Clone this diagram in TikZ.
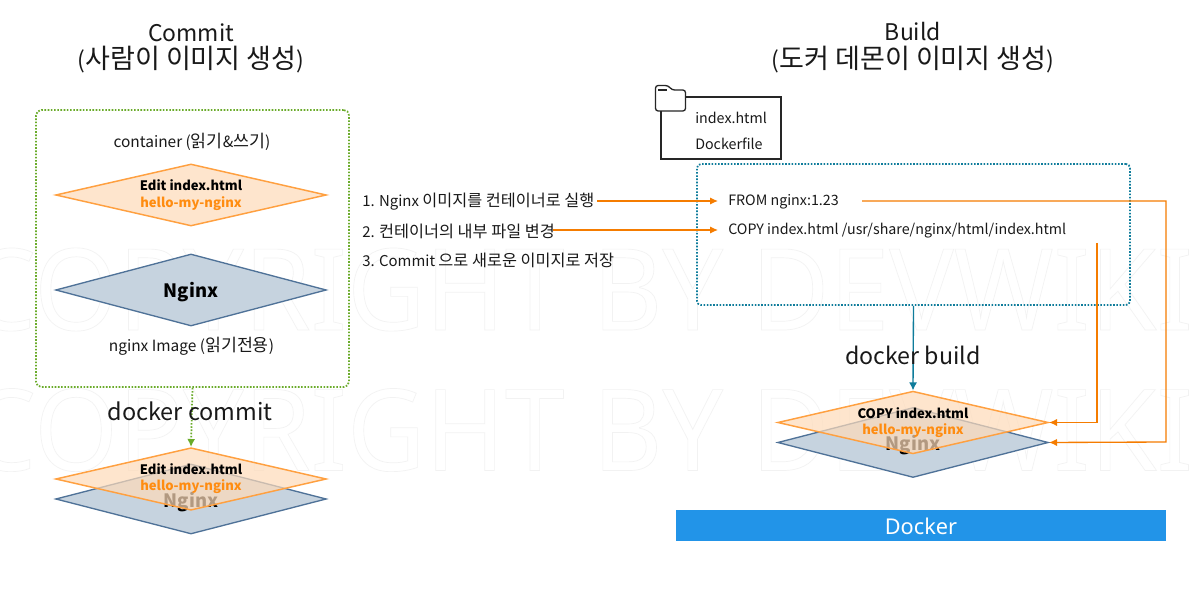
\documentclass[tikz,border=0pt]{standalone}
\usepackage{fontspec}
\setmainfont{Noto Sans CJK KR}
\newfontfamily\latinfont{Noto Sans}
\newfontfamily\hg[Scale=1.18]{Noto Sans CJK KR}
\newfontfamily\hgs[Scale=1.12]{Noto Sans CJK KR}
\newfontfamily\hgt[Scale=1.09]{Noto Sans CJK KR}
\usetikzlibrary{shapes.geometric,arrows.meta}
\definecolor{grn}{HTML}{6AAB2A}
\definecolor{teal2}{HTML}{0E7C9B}
\definecolor{org}{HTML}{F57C00}
\definecolor{orgline}{HTML}{FFA040}
\definecolor{orgfill}{HTML}{FEDBB9}
\definecolor{orgtxt}{HTML}{FF8C10}
\definecolor{bluefill}{HTML}{C6D3DF}
\definecolor{blueline}{HTML}{4F7298}
\definecolor{dockerblue}{HTML}{2294E8}
\definecolor{wm}{HTML}{F2F2F2}
\tikzset{
  x=0.75pt,y=-0.75pt,
  orgdia/.style={diamond,draw=orgline,line width=1.1pt,fill=orgfill,fill opacity=.7,inner sep=0pt,aspect=4.4,minimum width=203pt},
  bluedia/.style={diamond,draw=blueline,line width=1pt,fill=bluefill,inner sep=0pt,aspect=3.8,minimum width=203pt},
  lbl/.style={font=\fontsize{10.7pt}{12pt}\selectfont,text=black!90,inner sep=0pt},
  lbls/.style={font=\fontsize{11.2pt}{13pt}\selectfont,text=black!90,inner sep=0pt},
  lblb/.style={font=\fontsize{11.6pt}{13pt}\selectfont,text=black!90,inner sep=0pt},
  ttl/.style={font=\fontsize{17.2pt}{20pt}\selectfont,inner sep=0pt,text=black!90},
  bold/.style={font=\fontsize{9.8pt}{11pt}\selectfont\bfseries,inner sep=0pt},
  nginxb/.style={font=\fontsize{13.8pt}{15pt}\selectfont\bfseries,inner sep=0pt},
  orgtext/.style={font=\fontsize{9.8pt}{11pt}\selectfont\bfseries,inner sep=0pt,text=orgtxt},
  orgarrow/.style={draw=org,line width=1pt,-{Latex[length=6pt,width=5.5pt]}},
  dotline/.style={line width=1.3pt,dash pattern=on 1.2pt off 1.2pt},
  wmark/.style={font=\fontsize{85pt}{85pt}\selectfont,inner sep=0pt,anchor=west,text=wm,xscale=.948,transform shape}
}
\newcommand{\outl}[1]{\special{pdf:code 1 Tr 0.5 w}#1\special{pdf:code 0 Tr 1 w}}
\begin{document}
\begin{tikzpicture}
\useasboundingbox (0,0) rectangle (1196,598);
\fill[white] (0,0) rectangle (1196,598);
% watermark
\node[wmark] (wm1) at (-32,289.5) {\latinfont\outl{COPYRIGHT BY DEVWIKI}};
\node[wmark] (wm2) at (-32,430) {\latinfont\outl{COPYRIGHT BY DEVWIKI}};
% titles
\node[ttl] (t1) at (191,33) {Commit};
\node[ttl] (t2) at (191,60) {({\hg 사람이 이미지 생성})};
\node[ttl] (t3) at (913,32) {Build};
\node[ttl] (t4) at (913,60) {({\hg 도커 데몬이 이미지 생성})};
% green box
\node[draw=grn,dotline,rounded corners=4pt,minimum width=234.75pt,minimum height=207.75pt,inner sep=0pt] (gbox) at (192.5,248.5) {};
\node[lblb] (l1) at (192,142) {container ({\hgs 읽기}\&{\hgs 쓰기})};
\node[orgdia,minimum height=46.5pt] (d1) at (191,195) {};
\node[bold] (d1a) at (191,185) {Edit index.html};
\node[orgtext] (d1b) at (191,203.5) {hello-my-nginx};
\node[bluedia,minimum height=54pt] (d2) at (191,290) {};
\node[nginxb] (d2a) at (191,292) {Nginx};
\node[lblb] (l2) at (191.5,346.5) {nginx Image ({\hgs 읽기전용})};
% bottom left
\node[bluedia,minimum height=52.5pt] (d3) at (191,499) {};
\node[nginxb] (d3a) at (191,502) {Nginx};
\node[orgdia,minimum height=46.9pt] (d4) at (191,479) {};
\node[bold] (d4a) at (191,469) {Edit index.html};
\node[orgtext] (d4b) at (191,486.5) {hello-my-nginx};
\draw[draw=grn,dotline,-{Latex[length=6pt,width=6pt,sep=0pt]}] (gbox.south) -- (d4.north);
\node[font=\fontsize{17.6pt}{20pt}\selectfont,inner sep=0pt,text=black!90] (dc) at (190,411) {docker commit};
% steps
\node[lbls,anchor=west] (s1) at (362,202) {1. Nginx {\hgt 이미지를 컨테이너로 실행}};
\node[lbls,anchor=west] (s2) at (362,231) {2. {\hgt 컨테이너의 내부 파일 변경}};
\node[lbls,anchor=west] (s3) at (362,260) {3. Commit {\hgt 으로 새로운 이미지로 저장}};
% folder
\node[draw=black!85,line width=1pt,minimum width=90pt,minimum height=46.5pt,inner sep=0pt] (fbox) at (721,128) {};
\draw[black!85,line width=1pt,fill=white,rounded corners=2pt] (655.5,111) -- (655.5,85.5) -- (668,85.5) -- (672,90) -- (685.5,90) -- (685.5,111) -- cycle;
\draw[black!85,line width=1pt] (658,90) -- (667,90);
\node[lbl,anchor=west] (f1) at (695,117.5) {index.html};
\node[lbl,anchor=west] (f2) at (695,143.5) {Dockerfile};
% teal box
\node[draw=teal2,dotline,rounded corners=3pt,minimum width=324.75pt,minimum height=105.75pt,inner sep=0pt] (tbox) at (913.5,234.5) {};
\node[lbl,anchor=west] (c1) at (728,202) {FROM nginx:1.23};
\node[lbl,anchor=west] (c2) at (728,231) {COPY index.html /usr/share/nginx/html/index.html};
\coordinate (cf) at (862,201);
\coordinate (cc) at (1097,243);
\coordinate (a1) at (597,201);
\coordinate (a2) at (553,230);
\coordinate (b1) at (718,201);
\coordinate (b2) at (718,230);
\draw[orgarrow] (a1) -- (b1);
\draw[orgarrow] (a2) -- (b2);
% bottom right
\node[bluedia,minimum height=52.5pt] (d5) at (913,442.5) {};
\node[nginxb] (d5a) at (913,445.5) {Nginx};
\node[orgdia,minimum height=47pt] (d6) at (913,422.5) {};
\node[bold] (d6a) at (913,413) {COPY index.html};
\node[orgtext] (d6b) at (913,430.5) {hello-my-nginx};
\draw[draw=teal2,line width=1pt,-{Latex[length=6pt,width=6pt]}] (tbox.south) -- (d6.north);
\node[font=\fontsize{17.4pt}{20pt}\selectfont,inner sep=0pt,text=black!90] (db) at (913,355) {docker build};
\draw[orgarrow] (cf) -- (1166,201) -- (1166,442) -- (d5.east);
\draw[orgarrow] (cc) -- (1097,422.5) -- (d6.east);
% docker
\node[fill=dockerblue,minimum width=367.5pt,minimum height=23.25pt,inner sep=0pt] (dk) at (921,525.5) {};
\node[font=\fontsize{16.3pt}{18pt}\selectfont\latinfont,text=white,inner sep=0pt] (dkt) at (921,526) {Docker};
\end{tikzpicture}
\end{document}
